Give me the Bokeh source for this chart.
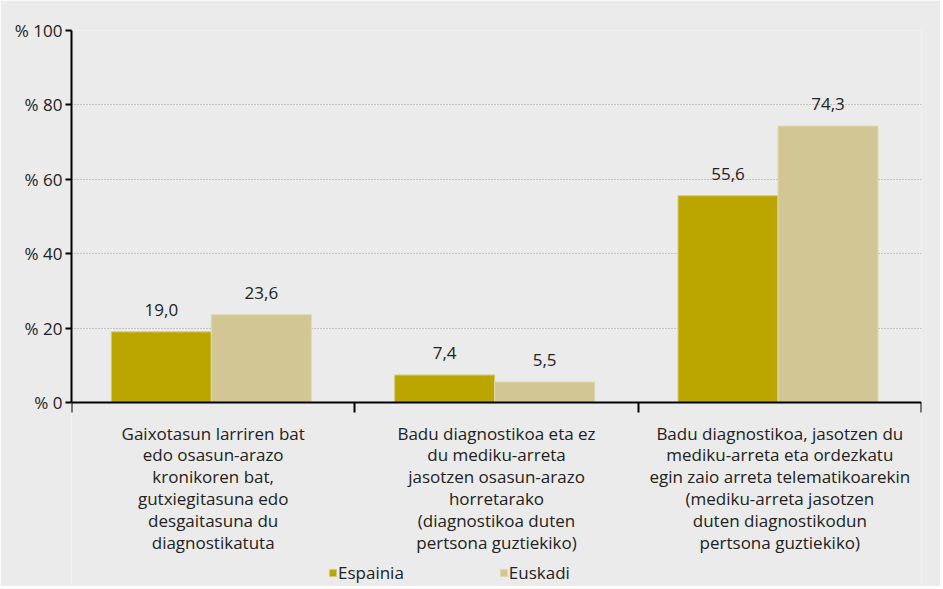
from bokeh.plotting import figure
from bokeh.models import ColumnDataSource, FixedTicker, Legend, LegendItem, Range1d
from bokeh.core.properties import value
from bokeh.embed import file_html
from bokeh.resources import INLINE

categories = [
    "Gaixotasun larriren bat\nedo osasun-arazo\nkronikoren bat,\ngutxiegitasuna edo\ndesgaitasuna du\ndiagnostikatuta",
    "Badu diagnostikoa eta ez\ndu mediku-arreta\njasotzen osasun-arazo\nhorretarako\n(diagnostikoa duten\npertsona guztiekiko)",
    "Badu diagnostikoa, jasotzen du\nmediku-arreta eta ordezkatu\negin zaio arreta telematikoarekin\n(mediku-arreta jasotzen\nduten diagnostikodun\npertsona guztiekiko)",
]
series_names = ["Espainia", "Euskadi"]
espainia = [19.0, 7.4, 55.6]
euskadi = [23.6, 5.5, 74.3]
y_ticks = [0, 20, 40, 60, 80, 100]
colors = ["#bba600", "#d2c794"]
FONT = "Open Sans"
FS = "17px"

centers = [i + 0.5 for i in range(len(categories))]
bw = 0.353
x_es = [c - 0.183 for c in centers]
x_eu = [c + 0.170 for c in centers]

def fmt(v):
    return f"{v:.1f}".replace(".", ",")

src_es = ColumnDataSource(dict(x=x_es, top=espainia, lab=[fmt(v) for v in espainia]))
src_eu = ColumnDataSource(dict(x=x_eu, top=euskadi, lab=[fmt(v) for v in euskadi]))

W, H = 940, 586
TOP, ZERO = 30, 402          # pixel rows of 100 % and 0 %
ymin = -100.0 * (H - ZERO) / (ZERO - TOP)   # extend frame below the axis

p = figure(width=W, height=H, output_backend="svg", toolbar_location=None,
           x_range=Range1d(0, 3), y_range=Range1d(ymin, 100),
           min_border_left=71, min_border_right=W - 921, min_border_top=TOP,
           min_border_bottom=0)
p.background_fill_color = "#ebebeb"
p.border_fill_color = "#ebebeb"
p.outline_line_color = None

r_es = p.vbar(x="x", top="top", width=bw, bottom=0, source=src_es,
              fill_color=colors[0], line_color="#d6cc80", line_width=1)
r_eu = p.vbar(x="x", top="top", width=bw, bottom=0, source=src_eu,
              fill_color=colors[1], line_color="#e0d8b2", line_width=1)

for src in (src_es, src_eu):
    p.text(x="x", y="top", text="lab", source=src, text_align="center",
           text_baseline="bottom", y_offset=-16, text_font=value(FONT),
           text_font_size=FS, text_color="#222222")

# y axis
p.yaxis.ticker = FixedTicker(ticks=y_ticks)
p.yaxis.bounds = (0, 100)
p.yaxis.major_label_overrides = {t: f"% {t}" for t in y_ticks}
p.yaxis.major_label_text_font = FONT
p.yaxis.major_label_text_font_size = FS
p.yaxis.major_label_text_color = "#222222"
p.yaxis.axis_line_color = "black"
p.yaxis.axis_line_width = 2
p.yaxis.major_tick_line_color = "black"
p.yaxis.major_tick_line_width = 2
p.yaxis.major_tick_out = 6
p.yaxis.major_tick_in = 0
p.yaxis.minor_tick_line_color = None
p.yaxis.major_label_standoff = 3

# x axis, pinned at 0 %
p.xaxis.fixed_location = 0
p.xaxis.ticker = FixedTicker(ticks=centers, minor_ticks=[0, 1, 2, 3])
p.xaxis.major_label_overrides = {c: lab for c, lab in zip(centers, categories)}
p.xaxis.major_label_text_font = FONT
p.xaxis.major_label_text_font_size = FS
p.xaxis.major_label_text_color = "#222222"
p.xaxis.major_label_text_line_height = 0.95
p.xaxis.major_label_text_align = "center"
p.xaxis.major_tick_line_color = None
p.xaxis.minor_tick_line_color = "black"
p.xaxis.minor_tick_line_width = 2
p.xaxis.minor_tick_out = 10
p.xaxis.minor_tick_in = 0
p.xaxis.axis_line_color = "black"
p.xaxis.axis_line_width = 2
p.xaxis.major_label_standoff = 9

p.xgrid.grid_line_color = None
p.ygrid.ticker = FixedTicker(ticks=y_ticks[1:])
p.ygrid.grid_line_color = "#9a9a9a"
p.ygrid.grid_line_dash = "1 2"
p.ygrid.grid_line_width = 1

legend = Legend(items=[LegendItem(label=series_names[0], renderers=[r_es]),
                       LegendItem(label=series_names[1], renderers=[r_eu])],
                orientation="horizontal", location=(257, 2))
legend.background_fill_alpha = 0
legend.border_line_color = None
legend.label_text_font = FONT
legend.label_text_font_size = FS
legend.label_text_color = "#222222"
legend.glyph_width = 9
legend.glyph_height = 9
legend.label_standoff = 1
legend.spacing = 95
legend.padding = 0
legend.margin = 0
p.add_layout(legend, "center")

open("out.html", "w").write(file_html(p, INLINE))
